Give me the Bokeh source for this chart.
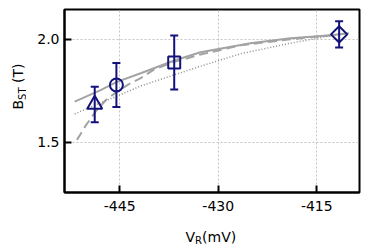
import math
from bokeh.plotting import figure
from bokeh.models import FixedTicker, Label
from bokeh.layouts import row, column
from bokeh.embed import file_html
from bokeh.resources import INLINE

# ---- data ----
x_ticks = [-445, -430, -415]
x_tick_labels = ["-445", "-430", "-415"]
y_ticks = [1.5, 2.0]
y_tick_labels = ["1.5", "2.0"]

# measured points (V_R in mV, B_ST in T, error)
tri_x, tri_y, tri_err = [-448.8], [1.683], [0.086]
cir_x, cir_y, cir_err = [-445.5], [1.778], [0.107]
sq_x, sq_y, sq_err = [-436.7], [1.887], [0.131]
dia_x, dia_y, dia_err = [-411.6], [2.024], [0.064]

# model curves
solid_x = [-451.85, -447.9, -445.5, -441.8, -436.8, -432.7, -425.1, -419.0, -413.3, -410.1]
solid_y = [1.697, 1.753, 1.792, 1.835, 1.896, 1.937, 1.981, 2.005, 2.019, 2.030]

dash_x = [-451.5, -450.2, -448.7, -447.1, -445.3, -443.6, -441.8, -439.8, -436.8, -432.7, -426.6, -419.0, -410.1]
dash_y = [1.511, 1.579, 1.647, 1.705, 1.748, 1.782, 1.811, 1.853, 1.889, 1.926, 1.971, 2.000, 2.029]

dot_x = [-451.85, -448.7, -445.5, -441.8, -436.8, -432.7, -426.6, -419.0, -412.1]
dot_y = [1.637, 1.681, 1.722, 1.773, 1.826, 1.869, 1.930, 1.981, 2.022]

NAVY = "#12127a"
GRAY = "#a3a3a3"
FONT = "DejaVu Sans"

# ---- main plot ----
p = figure(width=340, height=218, output_backend="svg", toolbar_location=None,
           x_range=(-453.4, -408.5), y_range=(1.255, 2.145),
           min_border_left=38, min_border_right=7, min_border_top=9, min_border_bottom=26)
p.background_fill_color = "white"
p.border_fill_color = "white"
p.outline_line_color = "black"
p.outline_line_width = 2

for ax in (p.xaxis[0], p.yaxis[0]):
    ax.axis_line_color = "black"
    ax.axis_line_width = 2
    ax.major_tick_in = 7
    ax.major_tick_out = 0
    ax.major_tick_line_width = 2
    ax.major_tick_line_color = "black"
    ax.minor_tick_line_color = None
    ax.major_label_text_font = FONT
    ax.major_label_text_font_size = "14px"
    ax.major_label_text_color = "black"
    ax.axis_label = None

p.xaxis.ticker = FixedTicker(ticks=x_ticks)
p.yaxis.ticker = FixedTicker(ticks=y_ticks)
p.xaxis.major_label_overrides = {t: l for t, l in zip(x_ticks, x_tick_labels)}
p.yaxis.major_label_overrides = {t: l for t, l in zip(y_ticks, y_tick_labels)}
p.xaxis.major_label_standoff = 8
p.yaxis.major_label_standoff = 5

for g in (p.xgrid[0], p.ygrid[0]):
    g.grid_line_color = "#c4c4c4"
    g.grid_line_dash = "2 2"
    g.grid_line_width = 1

p.line(solid_x, solid_y, line_color=GRAY, line_width=2)
p.line(dash_x, dash_y, line_color=GRAY, line_width=2, line_dash="9 5")
p.line(dot_x, dot_y, line_color="#8e8e8e", line_width=1.5, line_dash="1 2")

def err_point(xs, ys, es, marker, size, angle=0.0):
    lo = [y - e for y, e in zip(ys, es)]
    hi = [y + e for y, e in zip(ys, es)]
    p.segment(x0=xs, y0=lo, x1=xs, y1=hi, line_color=NAVY, line_width=2)
    p.scatter(xs, lo, marker="dash", size=8, line_color=NAVY, line_width=2)
    p.scatter(xs, hi, marker="dash", size=8, line_color=NAVY, line_width=2)
    p.scatter(xs, ys, marker=marker, size=size, angle=angle, fill_color=None,
              line_color=NAVY, line_width=2)

err_point(tri_x, tri_y, tri_err, "triangle", 15)
err_point(cir_x, cir_y, cir_err, "circle", 13)
err_point(sq_x, sq_y, sq_err, "square", 12)
err_point(dia_x, dia_y, dia_err, "square", 11.5, angle=math.pi / 4)

# ---- label panels (texts with subscripts) ----
def label_fig(w, h):
    f = figure(width=w, height=h, output_backend="svg", toolbar_location=None,
               x_axis_type=None, y_axis_type=None, x_range=(0, 1), y_range=(0, 1),
               min_border=0, min_border_left=0, min_border_right=0,
               min_border_top=0, min_border_bottom=0)
    f.outline_line_color = None
    f.background_fill_color = "white"
    f.border_fill_color = "white"
    f.grid.visible = False
    return f

def lab(f, text, x, y, size, angle=0.0):
    f.add_layout(Label(x=x, y=y, x_units="screen", y_units="screen", text=text,
                       text_font=FONT, text_font_size=size, text_color="black",
                       angle=angle, text_align="left", text_baseline="alphabetic"))

# y label: B_ST (T), rotated
fy = label_fig(26, 245)
ang = math.pi / 2
lab(fy, "B", 17, 136, "14px", ang)
lab(fy, "ST", 21.5, 145.6, "10px", ang)
lab(fy, "(T)", 17, 162.6, "14px", ang)

# x label: V_R(mV)  (this panel's frame is aligned with the main frame)
fx = label_fig(340, 27)
lab(fx, "V", 121, 9, "14px")
lab(fx, "R", 130.6, 5, "10px")
lab(fx, "(mV)", 137.6, 9, "14px")

layout = row(fy, column(p, fx, spacing=0), spacing=0)

open("out.html", "w").write(file_html(layout, INLINE))
